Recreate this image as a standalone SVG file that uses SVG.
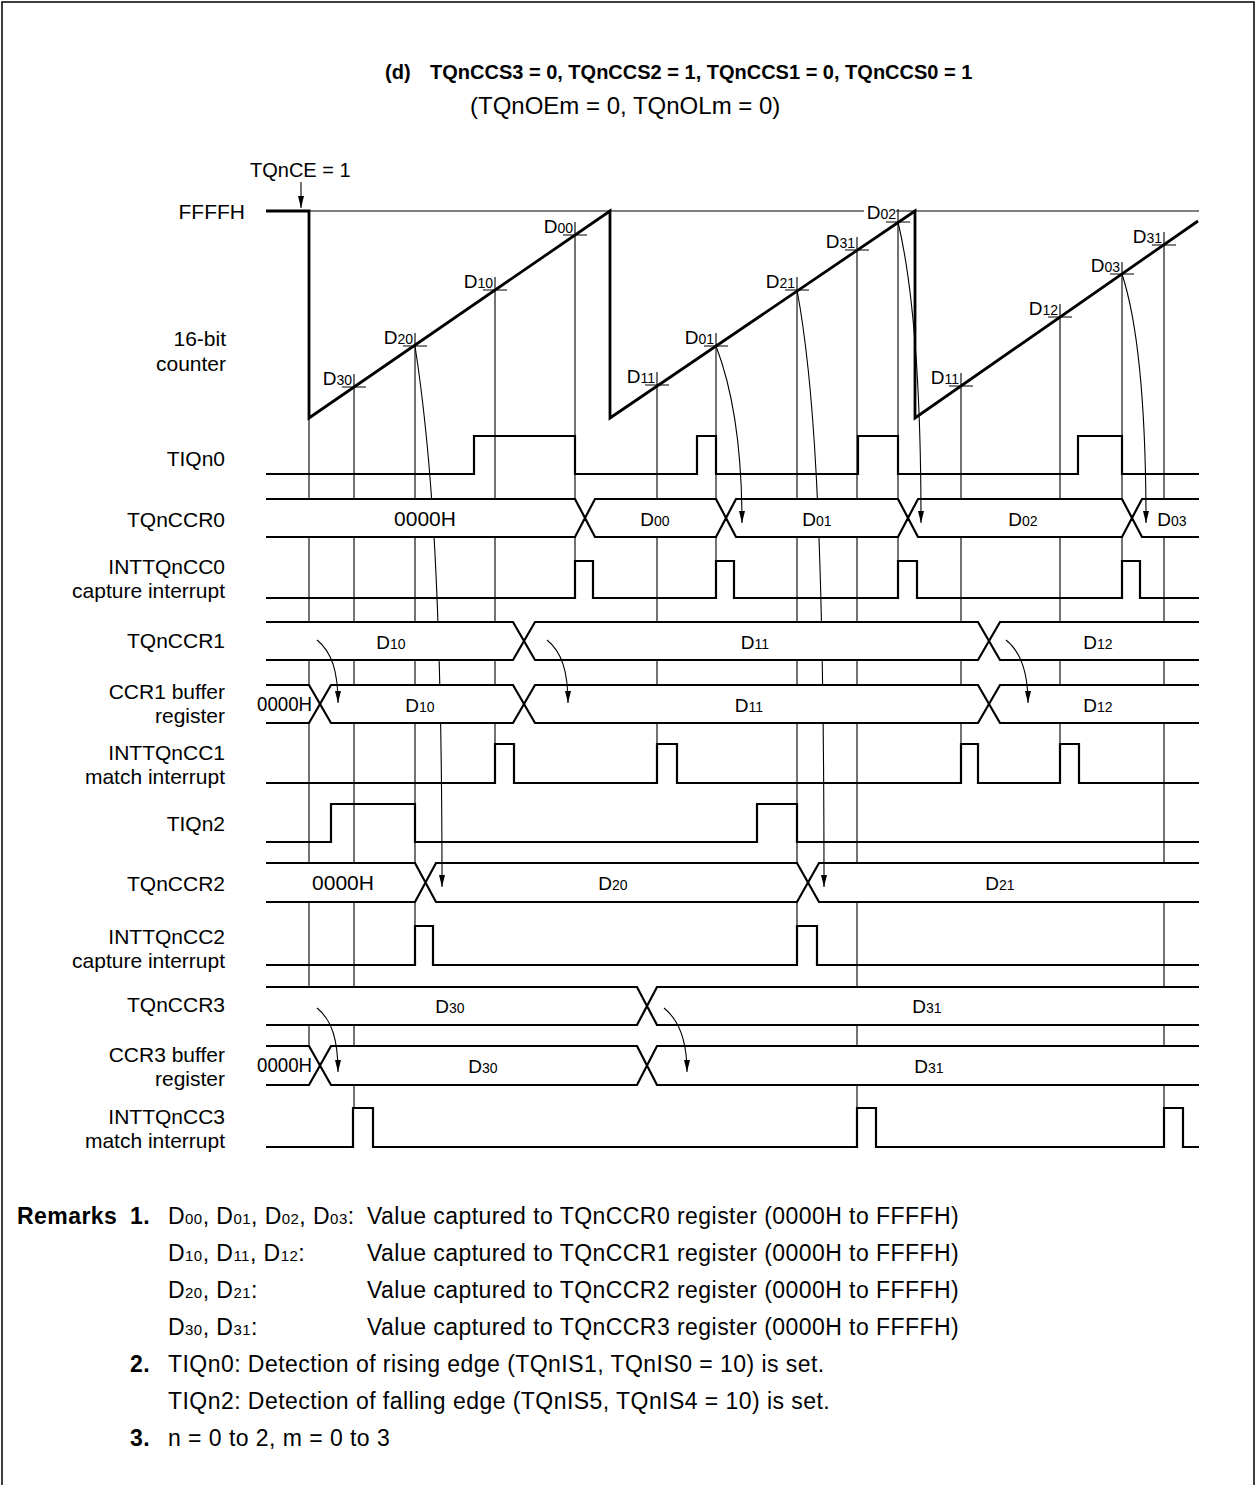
<svg xmlns="http://www.w3.org/2000/svg" width="1256" height="1485" viewBox="0 0 1256 1485">
<style>
text{font-family:"Liberation Sans",Arial,Helvetica,sans-serif;fill:#000}
.lbl{font-size:21px;text-anchor:end}
.bus{font-size:21px;text-anchor:middle}
.dl{font-size:19px;text-anchor:middle}
.tk{font-size:19px;text-anchor:end}
.sub{font-size:14px}
.rm{font-size:23px;letter-spacing:0.45px}
.rms{font-size:15px}
.b{font-weight:bold}
.sig{fill:none;stroke:#000;stroke-width:2.2;stroke-linejoin:miter}
.cnt{fill:none;stroke:#000;stroke-width:2.8;stroke-linejoin:miter}
.thin{fill:none;stroke:#000;stroke-width:1.1}
.bg{fill:#fff;stroke:none}
.frame{fill:none;stroke:#000;stroke-width:1.5}
</style>
<defs>
<marker id="ah" viewBox="0 0 12 6" refX="12" refY="3" markerWidth="12" markerHeight="6" markerUnits="userSpaceOnUse" orient="auto">
<path d="M0,0 L12,3 L0,6 z" fill="#000"/>
</marker>
</defs>
<rect width="1256" height="1485" fill="#fff"/>
<path class="frame" d="M2,1485 V2 H1254 V1485"/>

<g id="title">
<text class="b" x="385" y="79" style="font-size:20px">(d)</text>
<text class="b" x="430" y="79" style="font-size:20px">TQnCCS3 = 0, TQnCCS2 = 1, TQnCCS1 = 0, TQnCCS0 = 1</text>
<text x="470" y="114" style="font-size:24px">(TQnOEm = 0, TQnOLm = 0)</text>
</g>

<g id="guides">
<path class="thin" d="M309,418 V1046"/>
<path class="thin" d="M309,211 H1199"/>
<path class="thin" d="M354,374 V1108 M415,333 V926 M495,277 V744 M575,222 V561 M657,372 V744 M716,333 V561 M797,277 V926 M857,237 V1108 M898,209 V561 M961,373 V744 M1060,304 V744 M1122,262 V561 M1164,232 V1108"/>
<path class="thin" d="M342,387 H366 M403,346 H427 M483,290 H507 M563,235 H587 M645,385 H669 M704,346 H728 M785,290 H809 M845,250 H869 M886,222 H910 M949,386 H973 M1048,317 H1072 M1110,274 H1134 M1152,245 H1176"/>
<path class="thin" d="M415,346 C428,430 442,560 442,887"/>
<path class="thin" d="M797,290 C812,370 824,500 824,887"/>
</g>

<g id="counter">
<text class="lbl" x="245" y="219">FFFFH</text>
<text class="lbl" x="226" y="346">16-bit</text>
<text class="lbl" x="226" y="371">counter</text>
<text x="250" y="177" style="font-size:20px">TQnCE = 1</text>
<path class="cnt" d="M266,211 H309 V418 L610,211 V418 L915,211 V418 L1198,221"/>
<text class="tk" x="352" y="385">D<tspan class="sub">30</tspan></text>
<text class="tk" x="413" y="344">D<tspan class="sub">20</tspan></text>
<text class="tk" x="493" y="288">D<tspan class="sub">10</tspan></text>
<text class="tk" x="573" y="233">D<tspan class="sub">00</tspan></text>
<text class="tk" x="655" y="383">D<tspan class="sub">11</tspan></text>
<text class="tk" x="714" y="344">D<tspan class="sub">01</tspan></text>
<text class="tk" x="795" y="288">D<tspan class="sub">21</tspan></text>
<text class="tk" x="855" y="248">D<tspan class="sub">31</tspan></text>
<rect class="bg" x="864" y="198" width="32" height="22"/>
<text class="tk" x="896" y="219">D<tspan class="sub">02</tspan></text>
<text class="tk" x="959" y="384">D<tspan class="sub">11</tspan></text>
<text class="tk" x="1058" y="315">D<tspan class="sub">12</tspan></text>
<text class="tk" x="1120" y="272">D<tspan class="sub">03</tspan></text>
<text class="tk" x="1162" y="243">D<tspan class="sub">31</tspan></text>
</g>

<g id="tiqn0">
<text class="lbl" x="225" y="466">TIQn0</text>
<path class="sig" d="M266,474 H474 V436 H575 V474 H697 V436 H716 V474 H858 V436 H898 V474 H1078 V436 H1122 V474 H1199"/>
</g>

<g id="tqnccr0">
<text class="lbl" x="225" y="527">TQnCCR0</text>
<rect class="bg" x="266" y="500" width="933" height="36"/>
<path class="sig" d="M266,499 H575 L595,537 H716 L736,499 H898 L918,537 H1122 L1142,499 H1199 M266,537 H575 L595,499 H716 L736,537 H898 L918,499 H1122 L1142,537 H1199"/>
<text class="bus" x="425" y="526">0000H</text>
<text class="dl" x="655" y="526">D<tspan class="sub">00</tspan></text>
<text class="dl" x="817" y="526">D<tspan class="sub">01</tspan></text>
<text class="dl" x="1023" y="526">D<tspan class="sub">02</tspan></text>
<text class="dl" x="1172" y="526">D<tspan class="sub">03</tspan></text>
</g>

<g id="intcc0">
<text class="lbl" x="225" y="574">INTTQnCC0</text>
<text class="lbl" x="225" y="598">capture interrupt</text>
<path class="sig" d="M266,598 H575 V561 H593 V598 H716 V561 H734 V598 H898 V561 H917 V598 H1122 V561 H1140 V598 H1199"/>
</g>

<g id="tqnccr1">
<text class="lbl" x="225" y="648">TQnCCR1</text>
<rect class="bg" x="266" y="623" width="933" height="36"/>
<path class="sig" d="M266,622 H513 L535,660 H978 L1000,622 H1199 M266,660 H513 L535,622 H978 L1000,660 H1199"/>
<text class="dl" x="391" y="649">D<tspan class="sub">10</tspan></text>
<text class="dl" x="755" y="649">D<tspan class="sub">11</tspan></text>
<text class="dl" x="1098" y="649">D<tspan class="sub">12</tspan></text>
</g>

<g id="ccr1buf">
<text class="lbl" x="225" y="699">CCR1 buffer</text>
<text class="lbl" x="225" y="723">register</text>
<rect class="bg" x="266" y="686" width="933" height="36"/>
<path class="sig" d="M266,685 H309 L331,723 H513 L535,685 H978 L1000,723 H1199 M266,723 H309 L331,685 H513 L535,723 H978 L1000,685 H1199"/>
<text x="257" y="711" style="font-size:20px" textLength="55" lengthAdjust="spacingAndGlyphs">0000H</text>
<text class="dl" x="420" y="712">D<tspan class="sub">10</tspan></text>
<text class="dl" x="749" y="712">D<tspan class="sub">11</tspan></text>
<text class="dl" x="1098" y="712">D<tspan class="sub">12</tspan></text>
</g>

<g id="intcc1">
<text class="lbl" x="225" y="760">INTTQnCC1</text>
<text class="lbl" x="225" y="784">match interrupt</text>
<path class="sig" d="M266,783 H495 V744 H514 V783 H657 V744 H677 V783 H961 V744 H978 V783 H1060 V744 H1079 V783 H1199"/>
</g>

<g id="tiqn2">
<text class="lbl" x="225" y="831">TIQn2</text>
<path class="sig" d="M266,842 H331 V804 H415 V842 H757 V804 H797 V842 H1199"/>
</g>

<g id="tqnccr2">
<text class="lbl" x="225" y="891">TQnCCR2</text>
<rect class="bg" x="266" y="864" width="933" height="37"/>
<path class="sig" d="M266,863 H415 L436,902 H797 L819,863 H1199 M266,902 H415 L436,863 H797 L819,902 H1199"/>
<text class="bus" x="343" y="890">0000H</text>
<text class="dl" x="613" y="890">D<tspan class="sub">20</tspan></text>
<text class="dl" x="1000" y="890">D<tspan class="sub">21</tspan></text>
</g>

<g id="intcc2">
<text class="lbl" x="225" y="944">INTTQnCC2</text>
<text class="lbl" x="225" y="968">capture interrupt</text>
<path class="sig" d="M266,965 H415 V926 H433 V965 H797 V926 H817 V965 H1199"/>
</g>

<g id="tqnccr3">
<text class="lbl" x="225" y="1012">TQnCCR3</text>
<rect class="bg" x="266" y="988" width="933" height="36"/>
<path class="sig" d="M266,987 H637 L657,1025 H1199 M266,1025 H637 L657,987 H1199"/>
<text class="dl" x="450" y="1013">D<tspan class="sub">30</tspan></text>
<text class="dl" x="927" y="1013">D<tspan class="sub">31</tspan></text>
</g>

<g id="ccr3buf">
<text class="lbl" x="225" y="1062">CCR3 buffer</text>
<text class="lbl" x="225" y="1086">register</text>
<rect class="bg" x="266" y="1047" width="933" height="37"/>
<path class="sig" d="M266,1046 H309 L331,1085 H637 L657,1046 H1199 M266,1085 H309 L331,1046 H637 L657,1085 H1199"/>
<text x="257" y="1072" style="font-size:20px" textLength="55" lengthAdjust="spacingAndGlyphs">0000H</text>
<text class="dl" x="483" y="1073">D<tspan class="sub">30</tspan></text>
<text class="dl" x="929" y="1073">D<tspan class="sub">31</tspan></text>
</g>

<g id="intcc3">
<text class="lbl" x="225" y="1124">INTTQnCC3</text>
<text class="lbl" x="225" y="1148">match interrupt</text>
<path class="sig" d="M266,1147 H353 V1108 H373 V1147 H857 V1108 H876 V1147 H1164 V1108 H1183 V1147 H1199"/>
</g>

<g id="connectors">
<path class="thin" d="M301,182 V208" marker-end="url(#ah)"/>
<path class="thin" d="M442,862 V887" marker-end="url(#ah)"/>
<path class="thin" d="M824,862 V887" marker-end="url(#ah)"/>
<path class="thin" d="M716,346 C731,385 742,440 742,523" marker-end="url(#ah)"/>
<path class="thin" d="M898,222 C913,285 921,390 921,523" marker-end="url(#ah)"/>
<path class="thin" d="M1122,274 C1137,320 1146,400 1146,523" marker-end="url(#ah)"/>
<path class="thin" d="M317,640 C332,652 338,672 338,703" marker-end="url(#ah)"/>
<path class="thin" d="M547,640 C562,652 568,672 568,703" marker-end="url(#ah)"/>
<path class="thin" d="M1006,640 C1021,652 1028,672 1028,703" marker-end="url(#ah)"/>
<path class="thin" d="M317,1008 C332,1020 338,1040 338,1072" marker-end="url(#ah)"/>
<path class="thin" d="M664,1008 C679,1020 687,1040 687,1072" marker-end="url(#ah)"/>
</g>

<g id="remarks">
<text class="rm b" x="17" y="1224">Remarks</text>
<text class="rm b" x="130" y="1224">1.</text>
<text class="rm" x="168" y="1224">D<tspan class="rms">00</tspan>, D<tspan class="rms">01</tspan>, D<tspan class="rms">02</tspan>, D<tspan class="rms">03</tspan>:</text>
<text class="rm" x="367" y="1224">Value captured to TQnCCR0 register (0000H to FFFFH)</text>
<text class="rm" x="168" y="1261">D<tspan class="rms">10</tspan>, D<tspan class="rms">11</tspan>, D<tspan class="rms">12</tspan>:</text>
<text class="rm" x="367" y="1261">Value captured to TQnCCR1 register (0000H to FFFFH)</text>
<text class="rm" x="168" y="1298">D<tspan class="rms">20</tspan>, D<tspan class="rms">21</tspan>:</text>
<text class="rm" x="367" y="1298">Value captured to TQnCCR2 register (0000H to FFFFH)</text>
<text class="rm" x="168" y="1335">D<tspan class="rms">30</tspan>, D<tspan class="rms">31</tspan>:</text>
<text class="rm" x="367" y="1335">Value captured to TQnCCR3 register (0000H to FFFFH)</text>
<text class="rm b" x="130" y="1372">2.</text>
<text class="rm" x="168" y="1372">TIQn0: Detection of rising edge (TQnIS1, TQnIS0 = 10) is set.</text>
<text class="rm" x="168" y="1409">TIQn2: Detection of falling edge (TQnIS5, TQnIS4 = 10) is set.</text>
<text class="rm b" x="130" y="1446">3.</text>
<text class="rm" x="168" y="1446">n = 0 to 2, m = 0 to 3</text>
</g>
</svg>
